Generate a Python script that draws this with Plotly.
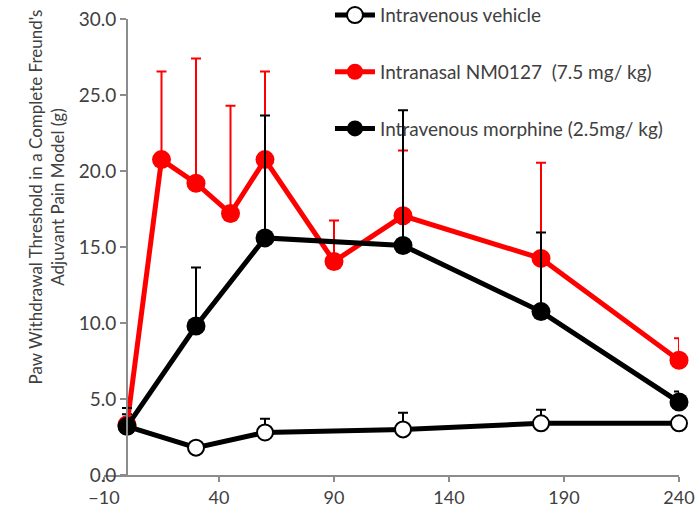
import plotly.graph_objects as go

# Data (time in minutes, paw withdrawal threshold in g, upper SEM)
t_vehicle = [0, 30, 60, 120, 180, 240]
y_vehicle = [3.2, 1.8, 2.8, 3.0, 3.4, 3.4]
e_vehicle = [0.8, 0.2, 0.9, 1.1, 0.9, 0.3]

t_nm = [0, 15, 30, 45, 60, 90, 120, 180, 240]
y_nm = [3.3, 20.75, 19.2, 17.2, 20.75, 14.05, 17.05, 14.25, 7.55]
e_nm = [1.7, 5.8, 8.2, 7.1, 5.8, 2.7, 4.3, 6.3, 1.45]

t_mor = [0, 30, 60, 120, 180, 240]
y_mor = [3.2, 9.8, 15.6, 15.1, 10.75, 4.8]
e_mor = [1.2, 3.85, 8.05, 8.9, 5.2, 0.7]

x_ticks = [-10, 40, 90, 140, 190, 240]
y_ticks = [0, 5, 10, 15, 20, 25, 30]

names = ["Intravenous vehicle", "Intranasal NM0127  (7.5 mg/ kg)", "Intravenous morphine (2.5mg/ kg)"]
y_title = "Paw Withdrawal Threshold in a Complete Freund's<br>Adjuvant Pain Model (g)"

FONT = "Lato"
TXT = "#404040"

fig = go.Figure()

def err(vals, color):
    return dict(type="data", symmetric=False, array=vals, arrayminus=[0] * len(vals),
                color=color, thickness=2, width=5)

fig.add_trace(go.Scatter(
    x=t_vehicle, y=y_vehicle, name=names[0], mode="lines+markers",
    line=dict(color="black", width=5),
    marker=dict(symbol="circle", size=16, color="white", line=dict(color="black", width=2)),
    error_y=err(e_vehicle, "black"), cliponaxis=False, legendgroup="a"))

fig.add_trace(go.Scatter(
    x=t_nm, y=y_nm, name=names[1], mode="lines+markers",
    line=dict(color="#ff0000", width=5),
    marker=dict(symbol="circle", size=19, color="#ff0000"),
    error_y=err(e_nm, "#ff0000"), cliponaxis=False, legendgroup="b"))

fig.add_trace(go.Scatter(
    x=t_mor, y=y_mor, name=names[2], mode="lines+markers",
    line=dict(color="black", width=5),
    marker=dict(symbol="circle", size=19, color="black"),
    error_y=err(e_mor, "black"), cliponaxis=False, legendgroup="c"))

fig.add_annotation(
    text=y_title, xref="paper", yref="paper", x=-0.0997, y=0.61,
    xanchor="center", yanchor="middle", textangle=-90, showarrow=False,
    font=dict(size=17, color=TXT, family=FONT))

fig.update_layout(
    width=695, height=512,
    margin=dict(l=104, r=16, t=19, b=37, autoexpand=False),
    paper_bgcolor="white", plot_bgcolor="white",
    font=dict(family=FONT, color=TXT, size=19),
    showlegend=True,
    legend=dict(x=0.393, y=1.05, xanchor="left", yanchor="top",
                bgcolor="rgba(0,0,0,0)", font=dict(size=19, color=TXT, family=FONT),
                tracegroupgap=29, traceorder="grouped", itemwidth=40),
    xaxis=dict(range=[-10, 240], tickvals=x_ticks, showgrid=False, zeroline=False,
               showline=True, linecolor="#8c8c8c", linewidth=2, automargin=False,
               ticklabeloverflow="allow",
               ticks="outside", ticklen=5, tickwidth=2, tickcolor="#8c8c8c",
               tickfont=dict(size=18, color=TXT, family=FONT)),
    yaxis=dict(range=[0, 30], tickvals=y_ticks, tickformat=".1f", showgrid=False, zeroline=False,
               showline=True, linecolor="#8c8c8c", linewidth=2, automargin=False,
               ticklabeloverflow="allow",
               anchor="free", position=10 / 250,
               ticks="outside", ticklen=6, tickwidth=2, tickcolor="#8c8c8c",
               tickfont=dict(size=19, color=TXT, family=FONT)),
)

# remove the default 8px page margin so the figure fills the 695x512 window exactly
fig.write_html("out.html", config={"displayModeBar": False},
               post_script="document.body.style.margin='0';document.body.style.overflow='hidden';")
